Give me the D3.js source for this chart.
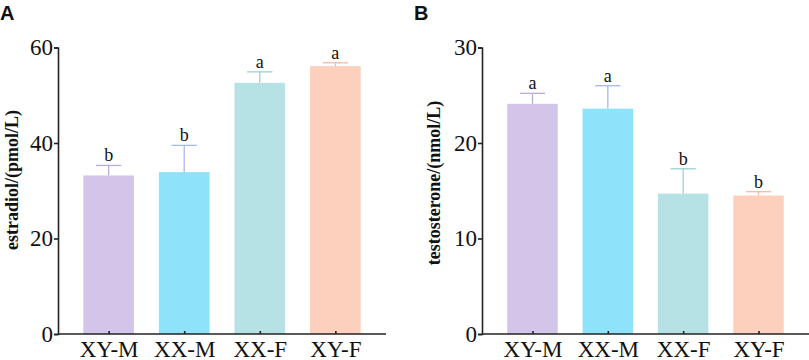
<!DOCTYPE html>
<html>
<head>
<meta charset="utf-8">
<script src="https://cdn.jsdelivr.net/npm/d3@7"></script>
<style>
  body { margin: 0; background: #fff; }
  svg { display: block; }
</style>
</head>
<body>
<div id="chart"></div>
<script>
var groups = ['XY-M', 'XX-M', 'XX-F', 'XY-F'];

var estradiol     = [33.2, 33.9, 52.6, 56.1];
var estradiolErr  = [2.1, 5.6, 2.3, 0.7];
var estradiolSig  = ['b', 'b', 'a', 'a'];
var estradiolTicks = [0, 20, 40, 60];

var testosterone     = [24.1, 23.6, 14.7, 14.5];
var testosteroneErr  = [1.1, 2.4, 2.6, 0.4];
var testosteroneSig  = ['a', 'a', 'b', 'b'];
var testosteroneTicks = [0, 10, 20, 30];

var fills    = ['#d3c5ea', '#8ee3fb', '#b6e1e5', '#fdd0be'];
var errColor = ['#b9acd9', '#a6b8f2', '#9bd0d7', '#f8baa6'];

var width  = 809;
var height = 360;
var serif  = '"Liberation Serif", "Times New Roman", serif';

var svg = d3.select('#chart')
	.append('svg')
	.attr('width', width)
	.attr('height', height);

// one panel = one little bar chart
function drawPanel(opt) {
	var y = d3.scaleLinear()
		.domain([0, opt.max])
		.range([334, 47.5]);

	var x = d3.scalePoint()
		.domain(groups)
		.range([opt.left, opt.right])
		.padding(0.67);

	var step = x.step();
	var barW = step * 0.67;
	var capW = barW / 2;

	var g = svg.append('g');

	// bars
	g.selectAll('rect.bar')
		.data(opt.values)
		.enter()
		.append('rect')
		.attr('class', 'bar')
		.attr('x', function(d, i) { return x(groups[i]) - barW / 2; })
		.attr('y', function(d) { return y(d); })
		.attr('width', barW)
		.attr('height', function(d) { return y(0) - y(d); })
		.attr('fill', function(d, i) { return fills[i]; });

	// error bars (upper only)
	g.selectAll('line.err')
		.data(opt.values)
		.enter()
		.append('line')
		.attr('class', 'err')
		.attr('x1', function(d, i) { return x(groups[i]); })
		.attr('x2', function(d, i) { return x(groups[i]); })
		.attr('y1', function(d) { return y(d); })
		.attr('y2', function(d, i) { return y(d + opt.err[i]); })
		.attr('stroke', function(d, i) { return errColor[i]; })
		.attr('stroke-width', 1.3);

	g.selectAll('line.cap')
		.data(opt.values)
		.enter()
		.append('line')
		.attr('class', 'cap')
		.attr('x1', function(d, i) { return x(groups[i]) - capW / 2; })
		.attr('x2', function(d, i) { return x(groups[i]) + capW / 2; })
		.attr('y1', function(d, i) { return y(d + opt.err[i]); })
		.attr('y2', function(d, i) { return y(d + opt.err[i]); })
		.attr('stroke', function(d, i) { return errColor[i]; })
		.attr('stroke-width', 1.3);

	// significance letters
	g.selectAll('text.sig')
		.data(opt.values)
		.enter()
		.append('text')
		.attr('class', 'sig')
		.attr('x', function(d, i) { return x(groups[i]); })
		.attr('y', function(d, i) { return y(d + opt.err[i]) - 4; })
		.attr('text-anchor', 'middle')
		.style('font-family', serif)
		.style('font-size', '18px')
		.attr('fill', '#111')
		.text(function(d, i) { return opt.sig[i]; });

	// axes
	var yAxis = d3.axisLeft(y)
		.tickValues(opt.ticks)
		.tickSize(4)
		.tickPadding(1)
		.tickFormat(d3.format('d'));

	var xAxis = d3.axisBottom(x)
		.tickSize(-3)
		.tickPadding(7);

	var ya = g.append('g')
		.attr('transform', 'translate(' + opt.left + ',0)')
		.call(yAxis);

	var xa = g.append('g')
		.attr('transform', 'translate(0,' + y(0) + ')')
		.call(xAxis);

	xa.select('.domain')
		.attr('d', 'M' + opt.left + ',0H' + opt.right);

	[ya, xa].forEach(function(a) {
		a.selectAll('.domain, line')
			.attr('stroke', '#222')
			.attr('stroke-width', 1.6);
		a.selectAll('text')
			.attr('fill', '#111')
			.style('font-family', serif)
			.style('font-size', '23px');
	});

	// y title
	g.append('text')
		.attr('transform', 'translate(' + opt.titleX + ',' + opt.titleY + ') rotate(-90)')
		.attr('text-anchor', 'middle')
		.style('font-family', serif)
		.style('font-weight', 'bold')
		.style('font-size', '18px')
		.attr('fill', '#111')
		.text(opt.title);

	// panel letter
	svg.append('text')
		.attr('x', opt.letterX)
		.attr('y', 20)
		.style('font-family', '"Liberation Sans", Arial, sans-serif')
		.style('font-weight', 'bold')
		.style('font-size', '20px')
		.attr('fill', '#111')
		.text(opt.letter);
}

drawPanel({
	left: 58, right: 386, max: 60,
	values: estradiol, err: estradiolErr, sig: estradiolSig, ticks: estradiolTicks,
	title: 'estradiol/(pmol/L)', titleX: 18, titleY: 180,
	letter: 'A', letterX: 0
});

drawPanel({
	left: 482, right: 809, max: 30,
	values: testosterone, err: testosteroneErr, sig: testosteroneSig, ticks: testosteroneTicks,
	title: 'testosterone/(nmol/L)', titleX: 440, titleY: 183,
	letter: 'B', letterX: 414
});
</script>
</body>
</html>
